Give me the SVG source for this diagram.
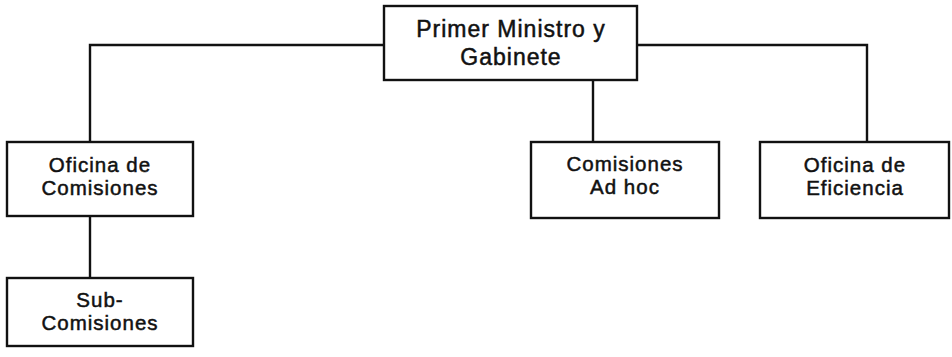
<svg xmlns="http://www.w3.org/2000/svg" width="952" height="357" viewBox="0 0 952 357">
  <style>
    .box { fill: #ffffff; stroke: #111111; stroke-width: 2.4; }
    .wire { fill: none; stroke: #111111; stroke-width: 2.4; }
    .lbl { font-family: "Liberation Sans", Arial, sans-serif; fill: #111111; stroke: #111111; stroke-width: 0.5; text-anchor: middle; }
    .big { font-size: 23px; letter-spacing: 1px; }
    .small { font-size: 20.5px; letter-spacing: 1px; }
  </style>
  <rect width="952" height="357" fill="#ffffff"/>

  <!-- connectors -->
  <g id="connectors">
    <polyline class="wire" points="90,142 90,45 867,45 867,142"/>
    <line class="wire" x1="593" y1="80" x2="593" y2="142"/>
    <line class="wire" x1="90" y1="216" x2="90" y2="278"/>
  </g>

  <g id="primer-ministro">
    <rect class="box" x="384" y="6" width="253" height="74"/>
    <text class="lbl big" x="511" y="37">Primer Ministro y</text>
    <text class="lbl big" x="511" y="65">Gabinete</text>
  </g>

  <g id="oficina-comisiones">
    <rect class="box" x="7" y="142" width="186" height="74"/>
    <text class="lbl small" x="100" y="172">Oficina de</text>
    <text class="lbl small" x="100" y="195">Comisiones</text>
  </g>

  <g id="sub-comisiones">
    <rect class="box" x="7" y="278" width="186" height="68"/>
    <text class="lbl small" x="100" y="307">Sub-</text>
    <text class="lbl small" x="100" y="330">Comisiones</text>
  </g>

  <g id="comisiones-ad-hoc">
    <rect class="box" x="531" y="142" width="188" height="76"/>
    <text class="lbl small" x="625" y="171">Comisiones</text>
    <text class="lbl small" x="625" y="194">Ad hoc</text>
  </g>

  <g id="oficina-eficiencia">
    <rect class="box" x="760" y="142" width="189" height="76"/>
    <text class="lbl small" x="855" y="172">Oficina de</text>
    <text class="lbl small" x="855" y="195">Eficiencia</text>
  </g>
</svg>
